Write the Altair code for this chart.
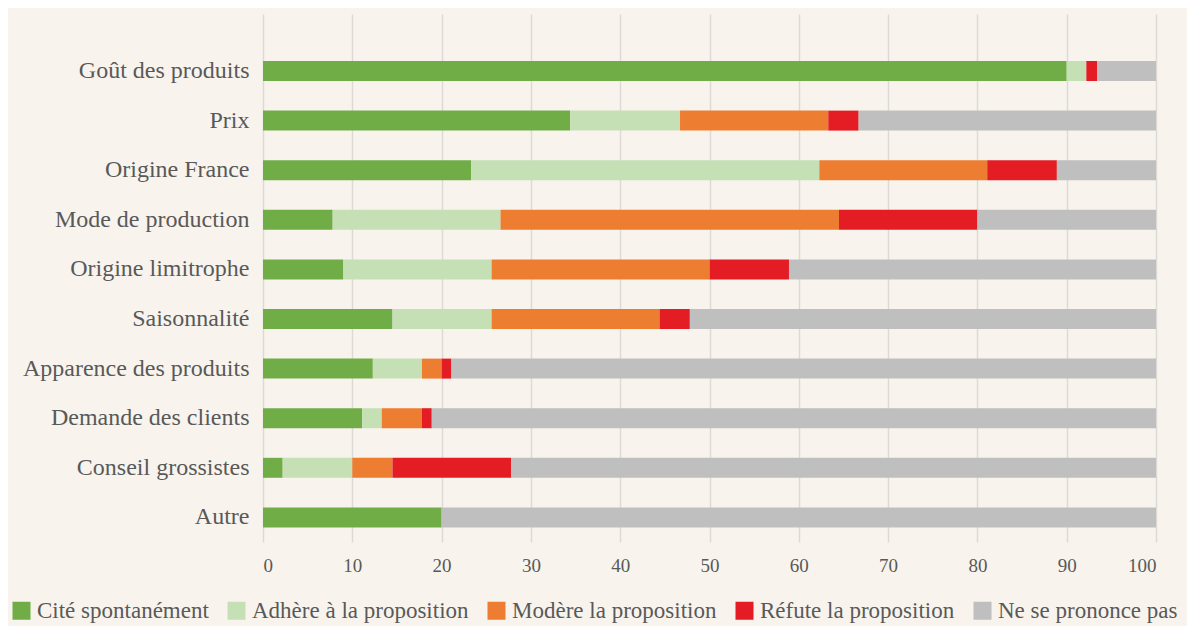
import altair as alt
import pandas as pd

categories = [
    "Goût des produits",
    "Prix",
    "Origine France",
    "Mode de production",
    "Origine limitrophe",
    "Saisonnalité",
    "Apparence des produits",
    "Demande des clients",
    "Conseil grossistes",
    "Autre",
]
series = [
    "Cité spontanément",
    "Adhère à la proposition",
    "Modère la proposition",
    "Réfute la proposition",
    "Ne se prononce pas",
]
cite = [90.0, 34.4, 23.3, 7.8, 9.0, 14.5, 12.3, 11.1, 2.2, 20.0]
adhere = [2.2, 12.3, 39.0, 18.8, 16.6, 11.1, 5.5, 2.2, 7.8, 0.0]
modere = [0.0, 16.6, 18.8, 37.9, 24.4, 18.8, 2.2, 4.5, 4.5, 0.0]
refute = [1.2, 3.4, 7.8, 15.5, 8.9, 3.4, 1.1, 1.1, 13.3, 0.0]
nspp = [6.6, 33.3, 11.1, 20.0, 41.1, 52.2, 78.9, 81.1, 72.2, 80.0]
colors = ["#70ad47", "#c5e0b4", "#ed7d31", "#e41c23", "#bfbfbf"]
x_ticks = [0, 10, 20, 30, 40, 50, 60, 70, 80, 90, 100]

rows = []
for vals, (k, s) in zip([cite, adhere, modere, refute, nspp], enumerate(series)):
    for c, v in zip(categories, vals):
        rows.append({"cat": c, "serie": s, "ord": k, "val": v})
df = pd.DataFrame(rows)

FONT = "Liberation Serif"
TXT = "#595959"

chart = (
    alt.Chart(df)
    .mark_bar()
    .encode(
        x=alt.X(
            "val:Q",
            stack="zero",
            scale=alt.Scale(domain=[0, 100], nice=False),
            axis=alt.Axis(
                values=x_ticks,
                title=None,
                domain=False,
                ticks=False,
                grid=True,
                gridColor="#dcdad6",
                gridWidth=1.5,
                labelFont=FONT,
                labelFontSize=19,
                labelColor=TXT,
                labelPadding=14,
            ),
        ),
        y=alt.Y(
            "cat:N",
            sort=categories,
            scale=alt.Scale(paddingInner=0.597, paddingOuter=0.621, align=0.763),
            axis=alt.Axis(
                title=None,
                domain=False,
                ticks=False,
                grid=False,
                labelFont=FONT,
                labelFontSize=24,
                labelColor=TXT,
                labelPadding=14,
                labelLimit=400,
            ),
        ),
        color=alt.Color(
            "serie:N",
            sort=series,
            scale=alt.Scale(domain=series, range=colors),
            legend=alt.Legend(
                title=None,
                orient="none",
                direction="horizontal",
                legendX=-253,
                legendY=585,
                symbolType="square",
                symbolSize=324,
                symbolStrokeWidth=0,
                symbolOpacity=1,
                labelFont=FONT,
                labelFontSize=23,
                labelColor=TXT,
                labelOffset=4,
                labelLimit=400,
                columnPadding=16,
            ),
        ),
        order=alt.Order("ord:Q"),
    )
    .properties(
        width=893,
        height=528,
        background="#f8f4ed",
        autosize=alt.AutoSizeParams(type="none"),
        padding={"left": 255, "top": 6, "right": 31, "bottom": 86},
    )
    .configure_view(stroke=None)
)

chart.save("out.html", embed_options={"renderer": "svg", "actions": False})
